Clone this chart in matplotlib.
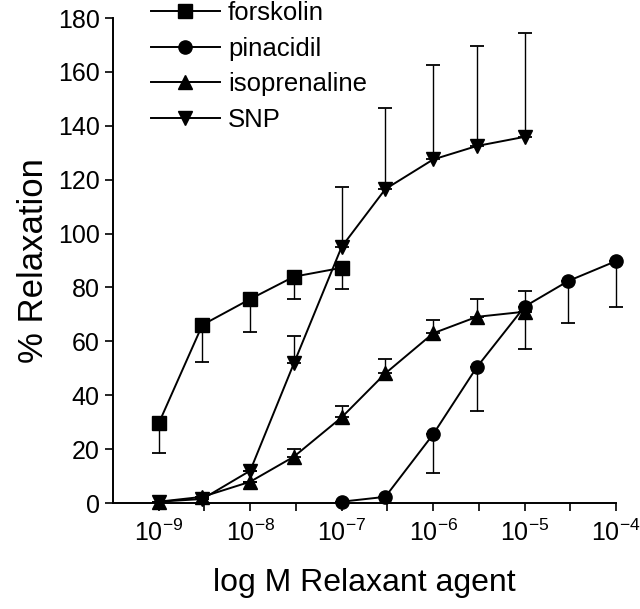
import numpy as np
import matplotlib
matplotlib.use("Agg")
import matplotlib.pyplot as plt
from matplotlib.ticker import LogFormatterSciNotation, FixedLocator, NullFormatter

plt.rcParams['font.family'] = ['Liberation Sans', 'DejaVu Sans']
plt.rcParams['mathtext.default'] = 'regular'

# --- data --------------------------------------------------------------------
forsk_conc = [1e-9, 3e-9, 1e-8, 3e-8, 1e-7]
forsk_mean = [29.6, 66.1, 75.7, 84.0, 87.3]
forsk_err = [10.9, 13.7, 12.4, 8.4, 8.0]          # drawn downwards

pinac_conc = [1e-7, 3e-7, 1e-6, 3e-6, 1e-5, 3e-5, 1e-4]
pinac_mean = [0.5, 2.3, 25.5, 50.4, 72.9, 82.4, 89.8]
pinac_err = [0.0, 0.0, 14.2, 16.1, 15.8, 15.5, 17.0]   # drawn downwards

iso_conc = [1e-9, 3e-9, 1e-8, 3e-8, 1e-7, 3e-7, 1e-6, 3e-6, 1e-5]
iso_mean = [0.5, 2.3, 7.9, 17.2, 31.8, 48.1, 63.0, 69.1, 71.0]
iso_err = [0.0, 0.0, 0.0, 3.0, 4.2, 5.3, 5.0, 6.6, 7.8]   # drawn upwards

snp_conc = [1e-9, 3e-9, 1e-8, 3e-8, 1e-7, 3e-7, 1e-6, 3e-6, 1e-5]
snp_mean = [0.5, 1.5, 12.0, 51.8, 95.1, 116.5, 127.5, 132.5, 135.9]
snp_err = [0.0, 0.0, 0.0, 10.2, 22.3, 30.0, 35.0, 37.0, 38.5]   # drawn upwards

decade_ticks = [1e-9, 1e-8, 1e-7, 1e-6, 1e-5, 1e-4]

# --- figure -------------------------------------------------------------------
fig = plt.figure(figsize=(6.4, 6.09), dpi=100)
ax = fig.add_axes([0.1766, 0.174, 0.786, 0.7964])

def series(x, y, err, marker, label, down):
    zeros = np.zeros(len(err))
    yerr = [err, zeros] if down else [zeros, err]
    eb = ax.errorbar(x, y, yerr=yerr, fmt='none', ecolor='black',
                     elinewidth=1.0, capsize=5, capthick=1.3, zorder=2)
    for art in eb.lines[1] + eb.lines[2]:
        art.set_clip_on(False)
    ax.plot(x, y, color='black', lw=1.4, marker=marker, ms=9.5,
            mfc='black', mec='black', label=label, zorder=3, clip_on=False)

series(forsk_conc, forsk_mean, forsk_err, 's', 'forskolin', True)
series(pinac_conc, pinac_mean, pinac_err, 'o', 'pinacidil', True)
series(iso_conc, iso_mean, iso_err, '^', 'isoprenaline', False)
series(snp_conc, snp_mean, snp_err, 'v', 'SNP', False)

ax.set_xscale('log')
ax.set_xlim(10 ** -9.5, 1e-4)
ax.set_ylim(0, 180)
ax.set_yticks(np.arange(0, 181, 20))
ax.xaxis.set_major_locator(FixedLocator(decade_ticks))
ax.xaxis.set_major_formatter(LogFormatterSciNotation())
ax.xaxis.set_minor_locator(FixedLocator([10 ** (k + 0.5) for k in range(-9, -4)]))
ax.xaxis.set_minor_formatter(NullFormatter())

for s in ['top', 'right']:
    ax.spines[s].set_visible(False)
for s in ['left', 'bottom']:
    ax.spines[s].set_linewidth(1.4)

ax.tick_params(axis='both', which='both', direction='out', length=6, width=1.2,
               labelsize=18, color='black')
ax.tick_params(axis='x', pad=6)

ax.set_ylabel('% Relaxation', fontsize=25, labelpad=6)
ax.set_xlabel('log M Relaxant agent', fontsize=23, labelpad=16)

leg = ax.legend(loc='upper left', bbox_to_anchor=(0.075, 1.035), frameon=False,
                fontsize=18.5, handlelength=2.7, handletextpad=0.3,
                labelspacing=0.45, borderaxespad=0, borderpad=0)

fig.savefig('out.png', dpi=100)
